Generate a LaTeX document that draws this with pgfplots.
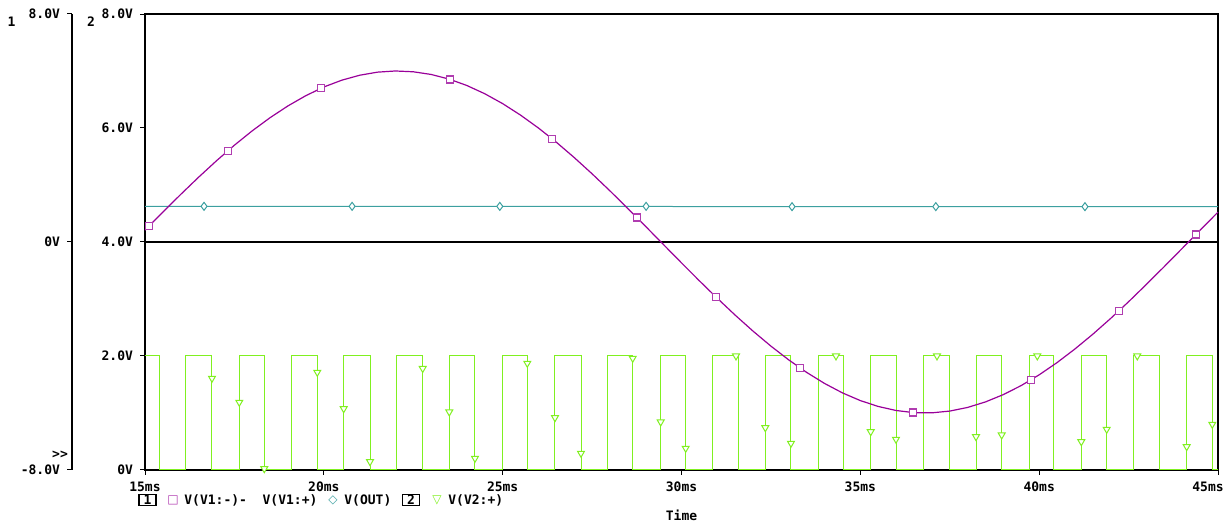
\documentclass[border=0pt]{standalone}
\usepackage{pgfplots}
\pgfplotsset{compat=1.18}
\usepackage{fontspec}
\setmainfont{DejaVu Sans Mono}
\newfontfamily\symfont{DejaVu Sans}
\definecolor{sinec}{RGB}{153,0,153}
\definecolor{sinem}{RGB}{176,60,176}
\definecolor{outc}{RGB}{60,160,160}
\definecolor{pwmc}{RGB}{128,240,32}
\begin{document}
\begin{tikzpicture}[font=\fontsize{6.5}{7}\selectfont\bfseries]
\useasboundingbox (0,0) rectangle (613pt,261pt);
\pgfplotsset{every axis/.append style={scale only axis,/pgf/number format/assume math mode=true}}
% axis 2 (main)
\begin{axis}[at={(72.5pt,26pt)}, anchor=south west, width=536.5pt, height=228pt,
  xmin=15, xmax=45, ymin=0, ymax=8,
  xtick={15,20,25,30,35,40,45}, xticklabels={15ms,20ms,25ms,30ms,35ms,40ms,\hspace*{-10pt}45ms},
  ytick={0,2,4,6,8}, yticklabels={0V,2.0V,4.0V,6.0V,8.0V},
  tick align=outside, tick pos=left, major tick length=2.5pt,
  tick style={black,line width=0.5pt}, axis line style={line width=0.6pt},
  clip=false,
  xlabel={Time}, xlabel style={at={(axis description cs:0.5,-0.0987)},anchor=center}]
\addplot[black, line width=0.6pt, forget plot] coordinates {(15,4)(45,4)};
\addplot[pwmc, line width=0.5pt, const plot, mark=none] coordinates {
(15,2)(15.400,0)(16.146,2)(16.873,0)(17.637,2)(18.335,0)(19.090,2)(19.817,0)
(20.555,2)(21.291,0)(22.037,2)(22.764,0)(23.508,2)(24.226,0)(24.990,2)(25.689,0)
(26.463,2)(27.190,0)(27.925,2)(28.636,0)(29.418,2)(30.117,0)(30.872,2)(31.599,0)
(32.343,2)(33.061,0)(33.825,2)(34.543,0)(35.290,2)(35.997,0)(36.772,2)(37.479,0)
(38.234,2)(38.952,0)(39.716,2)(40.406,0)(41.178,2)(41.888,0)(42.643,2)(43.370,0)
(44.124,2)(44.840,0)(45,0)};
\addplot[pwmc, line width=0.5pt, only marks, mark=triangle*, mark size=2pt,
  mark options={fill=white, rotate=180}] coordinates {
(16.873,1.609)(17.637,1.188)(18.335,0.023)(19.817,1.714)(20.555,1.075)(21.291,0.146)
(22.764,1.781)(23.508,1.018)(24.226,0.205)(25.689,1.872)(26.463,0.918)(27.190,0.293)
(28.636,1.960)(29.418,0.842)(30.117,0.381)(31.524,2.0)(32.343,0.742)(33.061,0.468)
(34.319,2.0)(35.290,0.672)(35.997,0.539)(37.143,2.0)(38.234,0.584)(38.952,0.614)
(39.948,2.0)(41.178,0.496)(41.888,0.714)(42.743,2.0)(44.124,0.409)(44.840,0.802)};
\end{axis}
% overlay for axis 1 traces
\begin{axis}[at={(72.5pt,26pt)}, anchor=south west, width=536.5pt, height=228pt,
  xmin=15, xmax=45, ymin=-8, ymax=8, hide axis, clip=false]
\addplot[outc, line width=0.5pt] coordinates {(15,1.25)(29.5,1.25)(30,1.24)(45,1.24)};
\addplot[outc, line width=0.5pt, only marks, mark=diamond*, mark size=2pt,
  mark options={fill=white}] coordinates {
(16.65,1.25)(20.79,1.25)(24.92,1.25)(29.01,1.25)(33.09,1.24)(37.11,1.24)(41.28,1.24)};
\addplot[sinec, line width=0.6pt] coordinates {
(15.0,0.415)(15.5,1.049)(16.0,1.671)(16.5,2.274)(17.0,2.851)(17.5,3.396)(18.0,3.902)
(18.5,4.364)(19.0,4.777)(19.5,5.136)(20.0,5.438)(20.5,5.676)(21.0,5.850)(21.5,5.959)
(22.0,6.000)(22.5,5.972)(23.0,5.878)(23.5,5.716)(24.0,5.490)(24.5,5.201)(25.0,4.854)
(25.5,4.451)(26.0,3.999)(26.5,3.501)(27.0,2.963)(27.5,2.392)(28.0,1.793)(28.5,1.174)
(29.0,0.542)(29.5,-0.096)(30.0,-0.733)(30.5,-1.362)(31.0,-1.975)(31.5,-2.566)
(32.0,-3.128)(32.5,-3.654)(33.0,-4.139)(33.5,-4.577)(34.0,-4.964)(34.5,-5.295)
(35.0,-5.565)(35.5,-5.771)(36.0,-5.913)(36.5,-5.988)(37.0,-5.995)(37.5,-5.933)
(38.0,-5.805)(38.5,-5.611)(39.0,-5.354)(39.5,-5.036)(40.0,-4.661)(40.5,-4.232)
(41.0,-3.754)(41.5,-3.236)(42.0,-2.681)(42.5,-2.096)(43.0,-1.486)(43.5,-0.860)
(44.0,-0.224)(44.5,0.415)(45.0,1.049)};
\addplot[sinem, line width=0.6pt, only marks, mark=square*, mark size=1.75pt,
  mark options={fill=white}] coordinates {
(15.11,0.555)(17.32,3.204)(19.92,5.393)(23.53,5.704)(26.38,3.624)(28.75,0.860)
(30.96,-1.927)(33.31,-4.417)(36.47,-5.985)(39.77,-4.838)(42.23,-2.416)(44.38,0.262)};
\end{axis}
% axis 1 scale
\begin{axis}[at={(36pt,26pt)}, anchor=south west, width=1pt, height=228pt,
  xmin=0, xmax=1, ymin=-8, ymax=8, axis x line=none, axis y line*=left,
  ytick={-8,0,8}, yticklabels={-8.0V,0V,8.0V},
  tick align=outside, major tick length=2.5pt,
  tick style={black,line width=0.5pt}, axis line style={-,line width=0.6pt}]
\end{axis}
\begin{scope}[x=0.5pt,y=-0.5pt,shift={(0pt,261pt)}]
\node at (11.5,22) {1};
\node at (91,22) {2};
\node at (60,455) {>{}>};
\node[draw, line width=0.6pt, inner sep=0pt, minimum width=8.5pt, minimum height=5.5pt] at (147.5,500) {1};
\node[text=sinem, inner sep=0pt] at (173,500) {\symfont\fontsize{6}{6}\selectfont □};
\node[anchor=west, inner sep=0pt] at (184,500) {V(V1:-)-\ \ V(V1:+)};
\node[text=outc, inner sep=0pt] at (333,500) {\symfont\fontsize{6}{6}\selectfont ◇};
\node[anchor=west, inner sep=0pt] at (344,500) {V(OUT)};
\node[draw, line width=0.6pt, inner sep=0pt, minimum width=8.5pt, minimum height=5.5pt] at (411,500) {2};
\node[text=pwmc, inner sep=0pt] at (437,500) {\symfont\fontsize{6}{6}\selectfont ▽};
\node[anchor=west, inner sep=0pt] at (448,500) {V(V2:+)};
\end{scope}
\end{tikzpicture}
\end{document}
